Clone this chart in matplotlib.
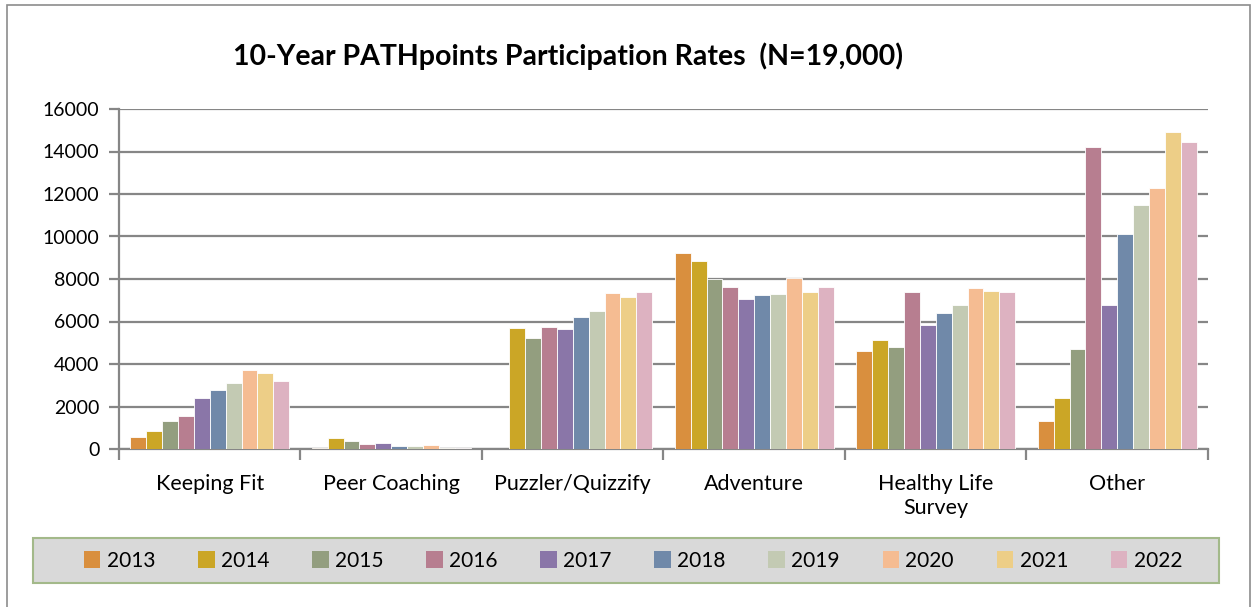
import numpy as np
import matplotlib.pyplot as plt
from matplotlib.patches import Rectangle

# Data
categories = ["Keeping Fit", "Peer Coaching", "Puzzler/Quizzify", "Adventure",
              "Healthy Life\nSurvey", "Other"]
years = ["2013", "2014", "2015", "2016", "2017", "2018", "2019", "2020", "2021", "2022"]

keeping_fit = [550, 850, 1340, 1550, 2410, 2760, 3090, 3710, 3560, 3190]
peer_coaching = [30, 530, 380, 220, 270, 140, 140, 180, 40, 30]
puzzler = [0, 5690, 5230, 5750, 5670, 6190, 6500, 7350, 7160, 7370]
adventure = [9210, 8860, 7990, 7620, 7080, 7230, 7310, 8040, 7410, 7640]
healthy_life = [4600, 5130, 4800, 7410, 5850, 6400, 6800, 7590, 7420, 7400]
other = [1340, 2380, 4720, 14190, 6760, 10130, 11470, 12300, 14930, 14460]

colors = ["#D98F3E", "#CBA626", "#939E7F", "#B77E90", "#8A76A8",
          "#7089A9", "#C3CAB3", "#F5BC92", "#EDCE87", "#DDB2C1"]

values = np.array([keeping_fit, peer_coaching, puzzler, adventure, healthy_life, other])

plt.rcParams['font.family'] = ['Lato', 'DejaVu Sans']

W, H = 1253, 607
fig = plt.figure(figsize=(W / 100, H / 100), dpi=100)
ax = fig.add_axes([119 / W, 1 - 449 / H, 1089 / W, 340 / H])

# outer chart border
fig.patches.append(Rectangle((7 / W, -0.01), 1243 / W, 1 - 5 / H + 0.01,
                             transform=fig.transFigure, fill=False,
                             edgecolor="#8C8C8C", linewidth=1.2))
# legend box
fig.patches.append(Rectangle((33 / W, 1 - 583 / H), 1186 / W, 45 / H,
                             transform=fig.transFigure, facecolor="#D9D9D9",
                             edgecolor="#A3B98A", linewidth=1.5))

x = np.arange(len(categories))
n = len(years)
group_w = 0.876
bw = group_w / n
for i, yr in enumerate(years):
    ax.bar(x - group_w / 2 + bw * (i + 0.5), values[:, i], width=bw,
           color=colors[i], edgecolor="white", linewidth=0.6, label=yr, zorder=3)

ax.set_xlim(-0.5, len(categories) - 0.5)
ax.set_ylim(0, 16000)
ax.set_yticks(np.arange(0, 16001, 2000))
ax.yaxis.grid(True, color="#868686", linewidth=1.6, zorder=0)
ax.set_axisbelow(True)

ax.set_xticks(np.arange(-0.5, len(categories), 1.0))
ax.set_xticklabels([])
ax.set_xticks(x, minor=True)
ax.set_xticklabels(categories, minor=True, fontsize=15.5, linespacing=1.25)
ax.tick_params(axis='x', which='minor', length=0, pad=18)
ax.tick_params(axis='x', which='major', length=8, width=1.6, color="#868686")
ax.tick_params(axis='y', length=7, width=1.6, color="#868686", labelsize=14, pad=7)

for s in ["top", "right"]:
    ax.spines[s].set_visible(False)
for s in ["left", "bottom"]:
    ax.spines[s].set_color("#868686")
    ax.spines[s].set_linewidth(1.6)

fig.text(568 / W, 1 - 56 / H, "10-Year PATHpoints Participation Rates  (N=19,000)",
         ha="center", va="center", fontsize=20.5, fontweight="bold")

leg = fig.legend(loc="center", ncol=10, bbox_to_anchor=(633 / W, 1 - 561 / H),
                 fontsize=15, frameon=False,
                 handlelength=0.8, handleheight=0.9, handletextpad=0.3,
                 columnspacing=2.05, borderaxespad=0)
for h in leg.legend_handles:
    h.set_edgecolor("none")

fig.savefig("out.png", dpi=100)
